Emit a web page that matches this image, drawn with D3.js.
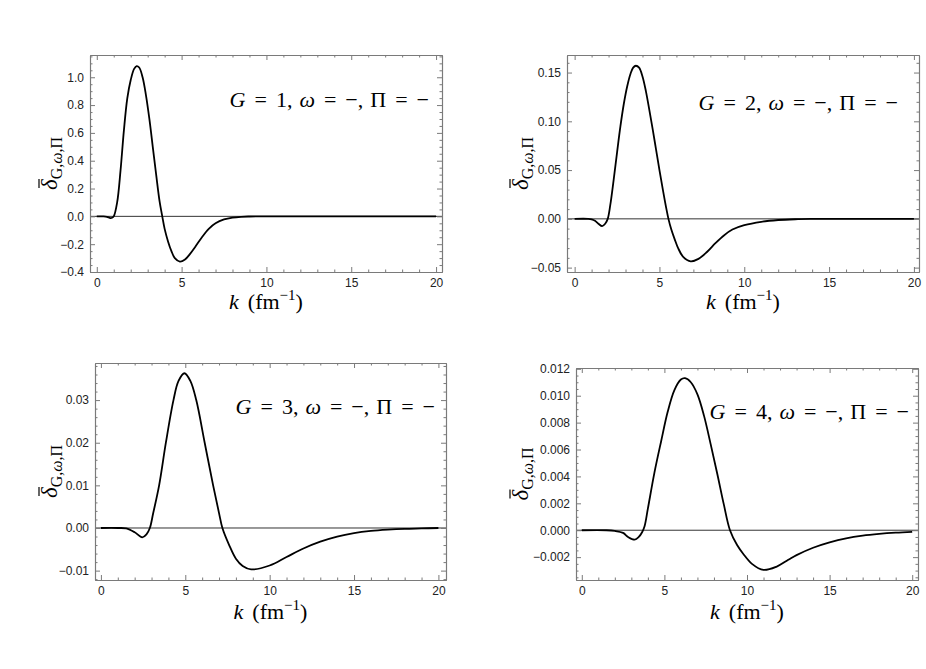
<!DOCTYPE html>
<html>
<head>
<meta charset="utf-8">
<script src="https://cdn.jsdelivr.net/npm/d3@7"></script>
<style>
  body { margin: 0; background: #fff; }
  svg { display: block; }
  .tick text { font-family: "Liberation Sans", Arial, sans-serif; font-size: 12px; fill: #222; }
</style>
</head>
<body>
<svg id="chart" width="926" height="669"></svg>
<script>
// values: k in fm^-1, delta bar for each G
const k1 = [0, 0.4, 0.6, 0.8, 0.9, 1.0, 1.2, 1.4, 1.6, 1.8, 2.0, 2.2, 2.35, 2.5, 2.7, 2.9, 3.1, 3.3, 3.5, 3.7, 3.86, 4.0, 4.2, 4.4, 4.6, 4.9, 5.2, 5.5, 5.8, 6.2, 6.6, 7.0, 7.5, 8.0, 8.5, 9.0, 10, 12, 15, 20];
const d1 = [0, 0, -0.003, -0.012, -0.01, 0.0, 0.1, 0.33, 0.62, 0.85, 0.98, 1.06, 1.08, 1.07, 1.0, 0.87, 0.7, 0.5, 0.3, 0.11, 0.0, -0.09, -0.18, -0.25, -0.3, -0.325, -0.31, -0.27, -0.22, -0.15, -0.09, -0.05, -0.022, -0.009, -0.003, -0.001, 0, 0, 0, 0];

const k2 = [0, 0.8, 1.0, 1.2, 1.4, 1.62, 1.8, 1.95, 2.1, 2.3, 2.5, 2.7, 2.9, 3.1, 3.3, 3.45, 3.61, 3.8, 4.0, 4.2, 4.4, 4.6, 4.8, 5.0, 5.2, 5.4, 5.53, 5.7, 5.9, 6.1, 6.4, 6.84, 7.3, 7.8, 8.3, 8.8, 9.3, 10, 11, 12, 13, 14, 15, 20];
const d2 = [0, 0, -0.0005, -0.002, -0.005, -0.0075, -0.005, 0.0, 0.014, 0.04, 0.068, 0.095, 0.118, 0.136, 0.149, 0.155, 0.157, 0.155, 0.146, 0.131, 0.112, 0.092, 0.071, 0.05, 0.03, 0.011, 0.0, -0.011, -0.021, -0.03, -0.039, -0.0436, -0.041, -0.034, -0.025, -0.017, -0.011, -0.0065, -0.003, -0.0012, -0.0004, -0.0001, 0, 0];

const k3 = [0, 1.0, 1.5, 2.0, 2.45, 2.7, 2.9, 3.1, 3.45, 3.85, 4.3, 4.6, 4.95, 5.3, 5.65, 6.15, 6.65, 7.0, 7.2, 7.6, 8.0, 8.4, 8.9, 10, 11, 12, 13, 14, 15, 16, 17, 18, 19, 20];
const d3v = [0, 0, -0.0001, -0.001, -0.0022, -0.0015, 0, 0.0035, 0.01, 0.02, 0.03, 0.0345, 0.0363, 0.0345, 0.03, 0.02, 0.01, 0.0035, 0, -0.004, -0.0072, -0.0089, -0.0097, -0.0088, -0.0068, -0.0048, -0.0032, -0.002, -0.0012, -0.0007, -0.0004, -0.0002, -0.0001, 0];

const k4 = [0, 1.5, 2.0, 2.5, 2.8, 3.2, 3.45, 3.65, 3.8, 4.0, 4.4, 4.8, 5.2, 5.6, 6.0, 6.25, 6.6, 7.0, 7.4, 7.8, 8.2, 8.6, 8.97, 9.4, 9.8, 10.3, 11, 11.8, 12.5, 13, 14, 15, 16, 17, 18, 19, 20];
const d4 = [0, 0, -0.00005, -0.0002, -0.0005, -0.0007, -0.0005, -0.00015, 0.0003, 0.0016, 0.0043, 0.0066, 0.0088, 0.0104, 0.0112, 0.0113, 0.0110, 0.0101, 0.0085, 0.0064, 0.0042, 0.0019, 0, -0.0011, -0.0018, -0.0025, -0.00295, -0.0027, -0.0022, -0.00185, -0.0013, -0.0009, -0.0006, -0.0004, -0.00027, -0.00018, -0.00012];

const gLabels = ["1", "2", "3", "4"];
const xMajor = [0, 5, 10, 15, 20];

// frame geometry for each panel
const panels = [
  {k: k1, d: d1, g: gLabels[0], left: 90, right: 442, top: 55, bottom: 272,
   xd: [-0.4, 20.35], yd: [-0.4, 1.16], yStep: 0.2, yMinor: 0.05, fmt: ".1f",
   lx: 429, ly: 107, ylx: 57, xly: 309},
  {k: k2, d: d2, g: gLabels[1], left: 567, right: 919, top: 55, bottom: 272,
   xd: [-0.45, 20.3], yd: [-0.0545, 0.168], yStep: 0.05, yMinor: 0.01, fmt: ".2f",
   lx: 898, ly: 110, ylx: 528, xly: 309},
  {k: k3, d: d3v, g: gLabels[2], left: 95, right: 446, top: 363, bottom: 580,
   xd: [-0.35, 20.45], yd: [-0.0122, 0.0387], yStep: 0.01, yMinor: 0.002, fmt: ".2f",
   lx: 435, ly: 414, ylx: 57, xly: 619},
  {k: k4, d: d4, g: gLabels[3], left: 576, right: 918, top: 368, bottom: 580,
   xd: [-0.35, 20.35], yd: [-0.0037, 0.01206], yStep: 0.002, yMinor: 0.0005, fmt: ".3f",
   lx: 909, ly: 419, ylx: 528, xly: 619}
];

const svg = d3.select('#chart');
const frameColor = '#7a7a7a';
const serif = '"Liberation Serif", "DejaVu Serif", serif';

function stepTicks(lo, hi, step) {
  const out = [];
  const start = Math.ceil(lo / step - 1e-9);
  const end = Math.floor(hi / step + 1e-9);
  for (let i = start; i <= end; i++) out.push(+(i * step).toFixed(6));
  return out;
}

function styleAxis(g) {
  g.select('.domain').attr('stroke', frameColor).attr('stroke-width', 1.1);
  g.selectAll('.tick line').attr('stroke', frameColor).attr('stroke-width', 1);
}

function drawPanel(p, i) {
  const x = d3.scaleLinear().domain(p.xd).range([p.left, p.right]);
  const y = d3.scaleLinear().domain(p.yd).range([p.bottom, p.top]);
  const g = svg.append('g').attr('class', 'panel');

  const xMinor = d3.range(0, 21).filter(v => v % 5 !== 0);
  const yMaj = stepTicks(p.yd[0], p.yd[1], p.yStep);
  const yMin = stepTicks(p.yd[0], p.yd[1], p.yMinor)
    .filter(v => !yMaj.some(m => Math.abs(m - v) < 1e-9));

  // clip for the curve
  g.append('clipPath').attr('id', 'clip' + i).append('rect')
    .attr('x', p.left).attr('y', p.top)
    .attr('width', p.right - p.left).attr('height', p.bottom - p.top);

  // zero axis line
  g.append('line')
    .attr('x1', p.left).attr('x2', p.right)
    .attr('y1', y(0)).attr('y2', y(0))
    .attr('stroke', '#333').attr('stroke-width', 1);

  const line = d3.line()
    .x((v, j) => x(p.k[j]))
    .y(v => y(v))
    .curve(d3.curveCatmullRom.alpha(0.5));

  g.append('path')
    .attr('d', line(p.d))
    .attr('clip-path', `url(#clip${i})`)
    .attr('fill', 'none')
    .attr('stroke', '#000')
    .attr('stroke-width', 1.8);

  // frame: bottom/left with labels, top/right mirrored ticks
  const fmt = d3.format(p.fmt);
  g.append('g').attr('transform', `translate(0,${p.bottom})`)
    .call(d3.axisBottom(x).tickValues(xMajor).tickSize(-5).tickPadding(6).tickSizeOuter(0))
    .call(styleAxis);
  g.append('g').attr('transform', `translate(0,${p.bottom})`)
    .call(d3.axisBottom(x).tickValues(xMinor).tickSize(-2.5).tickFormat('').tickSizeOuter(0))
    .call(styleAxis);
  g.append('g').attr('transform', `translate(0,${p.top})`)
    .call(d3.axisTop(x).tickValues(xMajor).tickSize(-5).tickFormat('').tickSizeOuter(0))
    .call(styleAxis);
  g.append('g').attr('transform', `translate(0,${p.top})`)
    .call(d3.axisTop(x).tickValues(xMinor).tickSize(-2.5).tickFormat('').tickSizeOuter(0))
    .call(styleAxis);

  g.append('g').attr('transform', `translate(${p.left},0)`)
    .call(d3.axisLeft(y).tickValues(yMaj).tickSize(-5).tickPadding(6).tickFormat(fmt).tickSizeOuter(0))
    .call(styleAxis);
  g.append('g').attr('transform', `translate(${p.left},0)`)
    .call(d3.axisLeft(y).tickValues(yMin).tickSize(-2.5).tickFormat('').tickSizeOuter(0))
    .call(styleAxis);
  g.append('g').attr('transform', `translate(${p.right},0)`)
    .call(d3.axisRight(y).tickValues(yMaj).tickSize(-5).tickFormat('').tickSizeOuter(0))
    .call(styleAxis);
  g.append('g').attr('transform', `translate(${p.right},0)`)
    .call(d3.axisRight(y).tickValues(yMin).tickSize(-2.5).tickFormat('').tickSizeOuter(0))
    .call(styleAxis);

  // panel label  G = n, ω = −, Π = −  (TeX-like spacing)
  const eq = 9, cm = 7;
  const lab = g.append('text')
    .attr('font-family', serif)
    .attr('x', p.lx).attr('y', p.ly)
    .attr('text-anchor', 'end').attr('font-size', 22);
  lab.append('tspan').attr('font-style', 'italic').text('G');
  lab.append('tspan').attr('dx', eq).text('=');
  lab.append('tspan').attr('dx', eq).text(p.g + ',');
  lab.append('tspan').attr('dx', cm).attr('font-style', 'italic').text('ω');
  lab.append('tspan').attr('dx', eq).text('=');
  lab.append('tspan').attr('dx', eq).text('−,');
  lab.append('tspan').attr('dx', cm).text('Π');
  lab.append('tspan').attr('dx', eq).text('=');
  lab.append('tspan').attr('dx', eq).text('−');

  // x label  k (fm^-1)
  const cx = (p.left + p.right) / 2;
  const xl = g.append('text')
    .attr('font-family', serif)
    .attr('x', cx).attr('y', p.xly)
    .attr('text-anchor', 'middle').attr('font-size', 22);
  xl.append('tspan').attr('font-style', 'italic').text('k');
  xl.append('tspan').attr('dx', 9).text('(fm');
  xl.append('tspan').attr('font-size', 15).attr('dy', -9).text('−1');
  xl.append('tspan').attr('dy', 9).text(')');

  // y label  δ̄_{G,ω,Π}
  const cy = (p.top + p.bottom) / 2;
  const yl = g.append('g').attr('transform', `translate(${p.ylx},${cy}) rotate(-90)`);
  const yt = yl.append('text')
    .attr('font-family', serif)
    .attr('text-anchor', 'middle').attr('font-size', 23);
  const dl = yt.append('tspan').attr('font-style', 'italic').text('δ');
  yt.append('tspan').attr('font-size', 16).attr('dy', 5).text('G,');
  yt.append('tspan').attr('font-size', 16).attr('font-style', 'italic').text('ω');
  yt.append('tspan').attr('font-size', 16).text(',Π');
  const bb = dl.node().getBBox();
  yl.append('line')
    .attr('x1', bb.x + 2).attr('x2', bb.x + bb.width)
    .attr('y1', bb.y + 2).attr('y2', bb.y + 2)
    .attr('stroke', '#000').attr('stroke-width', 1.2);
}

panels.forEach(drawPanel);
</script>
</body>
</html>
